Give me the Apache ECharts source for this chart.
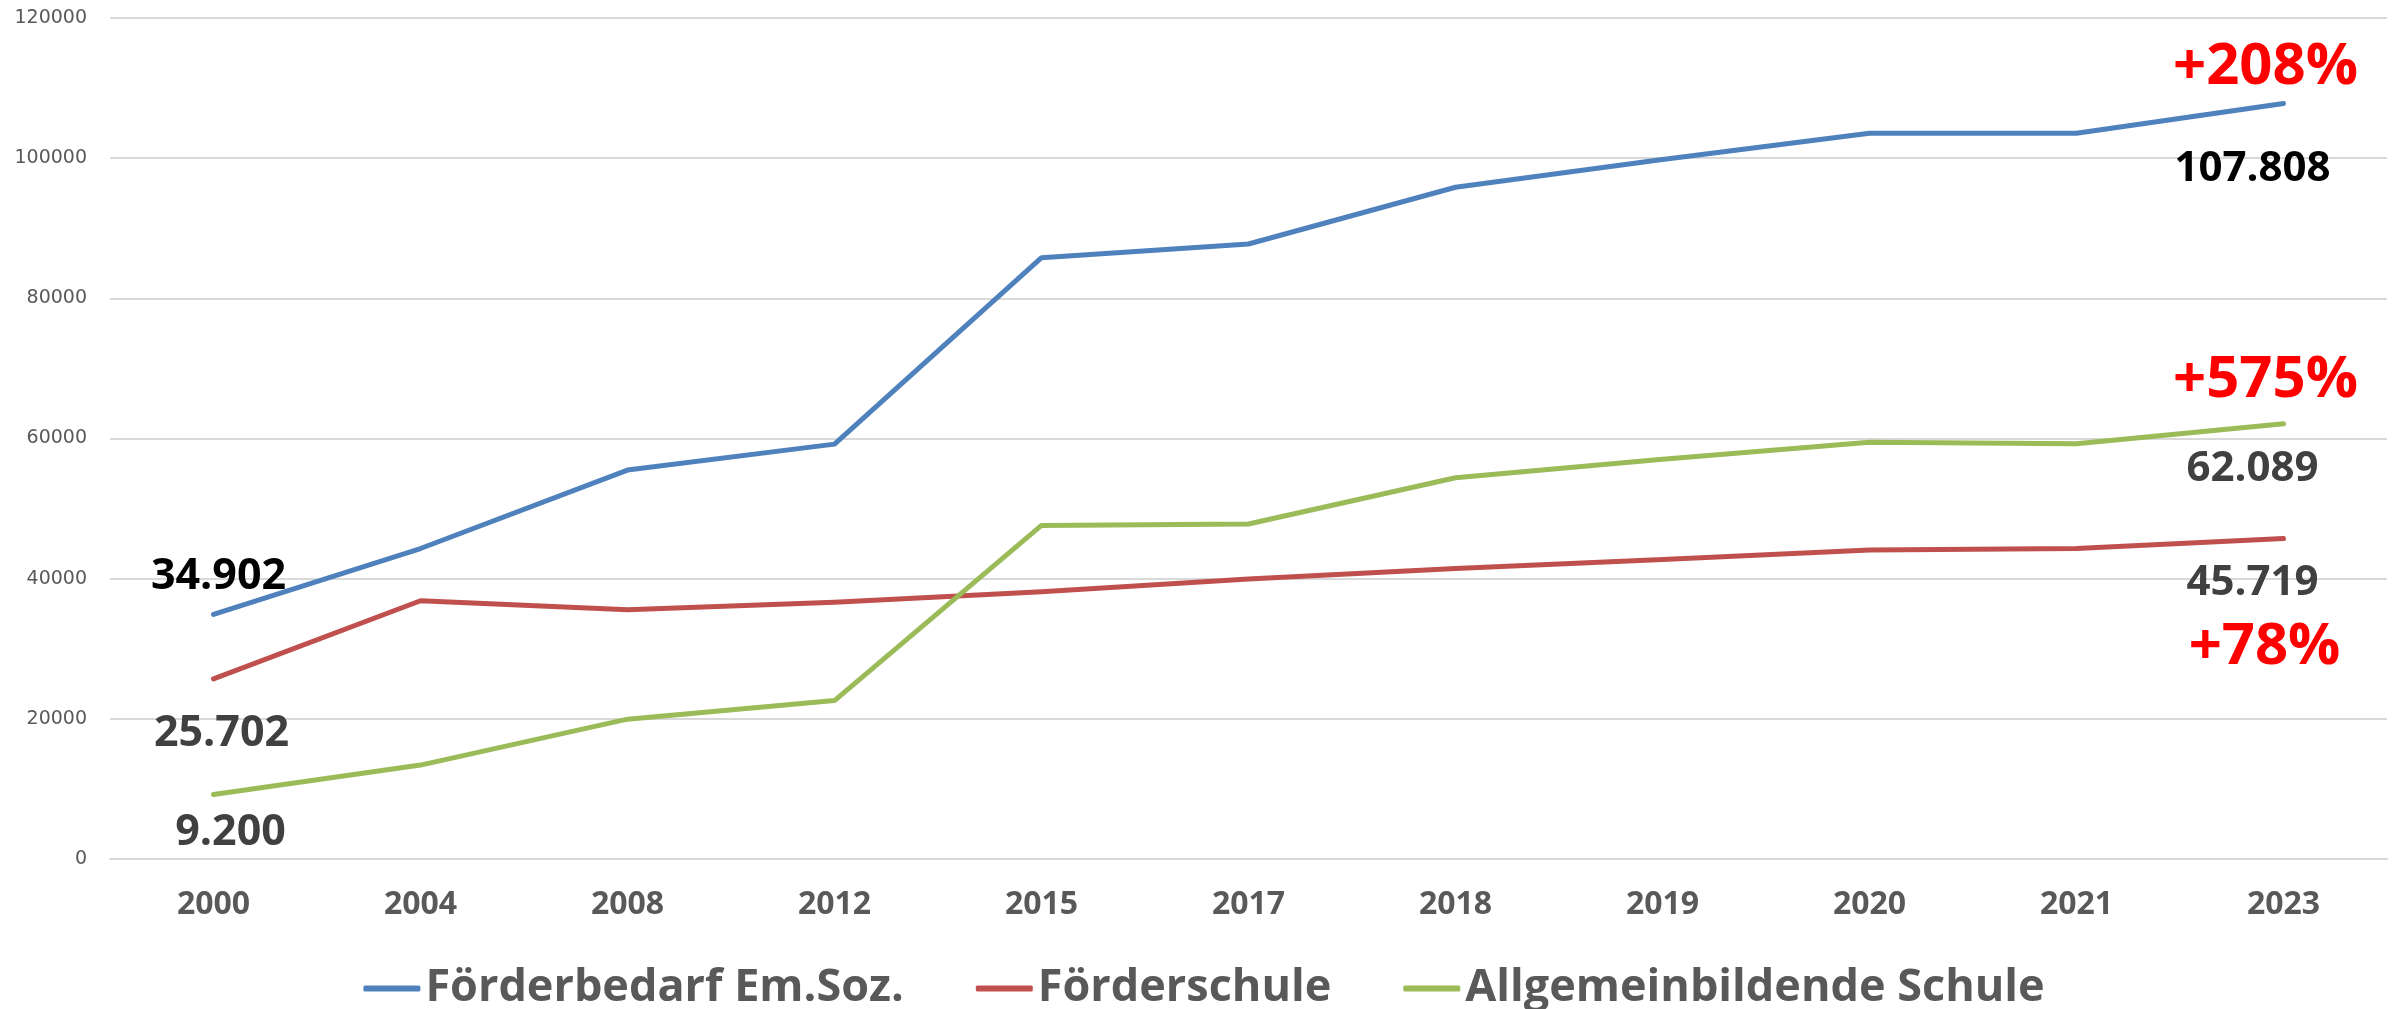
<!DOCTYPE html>
<html>
<head>
<meta charset="utf-8">
<script src="https://cdn.jsdelivr.net/npm/echarts@6/dist/echarts.min.js"></script>
<style>
html,body{margin:0;padding:0;background:#fff;}
#chart{width:2408px;height:1009px;}
</style>
</head>
<body>
<div id="chart"></div>
<script>
const categories = ['2000','2004','2008','2012','2015','2017','2018','2019','2020','2021','2023'];
const seriesNames = ['Förderbedarf Em.Soz.', 'Förderschule', 'Allgemeinbildende Schule'];
const foerderbedarf = [34902, 44300, 55500, 59200, 85800, 87750, 95850, 99800, 103550, 103550, 107808];
const foerderschule = [25702, 36850, 35550, 36650, 38150, 39950, 41450, 42750, 44100, 44300, 45719];
const allgemein = [9200, 13400, 19950, 22600, 47600, 47800, 54400, 57050, 59450, 59250, 62089];
const growthTexts = ['+208%', '+78%', '+575%'];
const yTicks = [0, 20000, 40000, 60000, 80000, 100000, 120000];

const colors = ['#4F81BD', '#C0504D', '#9BBB59'];
const values = [foerderbedarf, foerderschule, allgemein];

function fmt(v){ return String(v).replace(/\B(?=(\d{3})+(?!\d))/g, '.'); }

const labelFont = {fontFamily:'Open Sans', fontWeight:'bold'};
const labelCfg = [
  {s:[5,-38], sc:'#000000', e:[-31,66], ec:'#000000', g:[-18,-36]},
  {s:[8,55], sc:'#404040', e:[-31,44], ec:'#404040', g:[-19,109]},
  {s:[17,38], sc:'#404040', e:[-31,45], ec:'#404040', g:[-18,-43]}
];

const series = values.map((arr, i) => {
  const last = arr.length - 1;
  const cfg = labelCfg[i];
  const mk = (idx, text, off, color, size) => ({
    coord: [categories[idx], arr[idx]],
    label: Object.assign({show:true, position:'inside', formatter:text, offset:off, color:color, fontSize:size,
      align:'center', verticalAlign:'middle'}, labelFont)
  });
  return {
    name: seriesNames[i],
    type: 'line',
    data: arr,
    symbol: 'none',
    lineStyle: {color: colors[i], width: 5, cap:'round', join:'round'},
    itemStyle: {color: colors[i]},
    z: i === 0 ? 3 : (i === 2 ? 2 : 1),
    markPoint: {
      symbol: 'circle',
      symbolSize: 1,
      itemStyle: {color: 'rgba(0,0,0,0)'},
      silent: true,
      data: [
        mk(0, fmt(arr[0]), cfg.s, cfg.sc, 43),
        mk(last, fmt(arr[last]), cfg.e, cfg.ec, 42),
        mk(last, growthTexts[i], cfg.g, '#FF0000', 58)
      ]
    }
  };
});

const chart = echarts.init(document.getElementById('chart'), null, {renderer:'canvas'});
chart.setOption({
  animation: false,
  backgroundColor: '#ffffff',
  color: colors,
  grid: {left: 110, right: 21, top: 18, bottom: 150, containLabel: false},
  legend: {
    data: seriesNames,
    top: 961,
    left: 'center',
    itemWidth: 57,
    itemHeight: 6,
    itemGap: 72,
    icon: 'roundRect',
    textStyle: {fontFamily:'Open Sans', fontWeight:'bold', fontSize:45, color:'#595959'}
  },
  xAxis: {
    type: 'category',
    data: categories,
    boundaryGap: true,
    axisLine: {show: true, lineStyle: {color:'#D9D9D9', width:2}},
    axisTick: {show: false},
    axisLabel: {margin: 30, fontFamily:'Open Sans', fontWeight:'bold', fontSize:32, color:'#595959'}
  },
  yAxis: {
    type: 'value',
    min: yTicks[0],
    max: yTicks[yTicks.length-1],
    interval: yTicks[1] - yTicks[0],
    axisLine: {show:false},
    axisTick: {show:false},
    splitLine: {lineStyle: {color:'#D9D9D9', width:2}},
    axisLabel: {margin: 23, fontFamily:'DejaVu Sans', fontSize:19, color:'#595959', formatter: v => String(v)}
  },
  series: series
});
</script>
</body>
</html>
